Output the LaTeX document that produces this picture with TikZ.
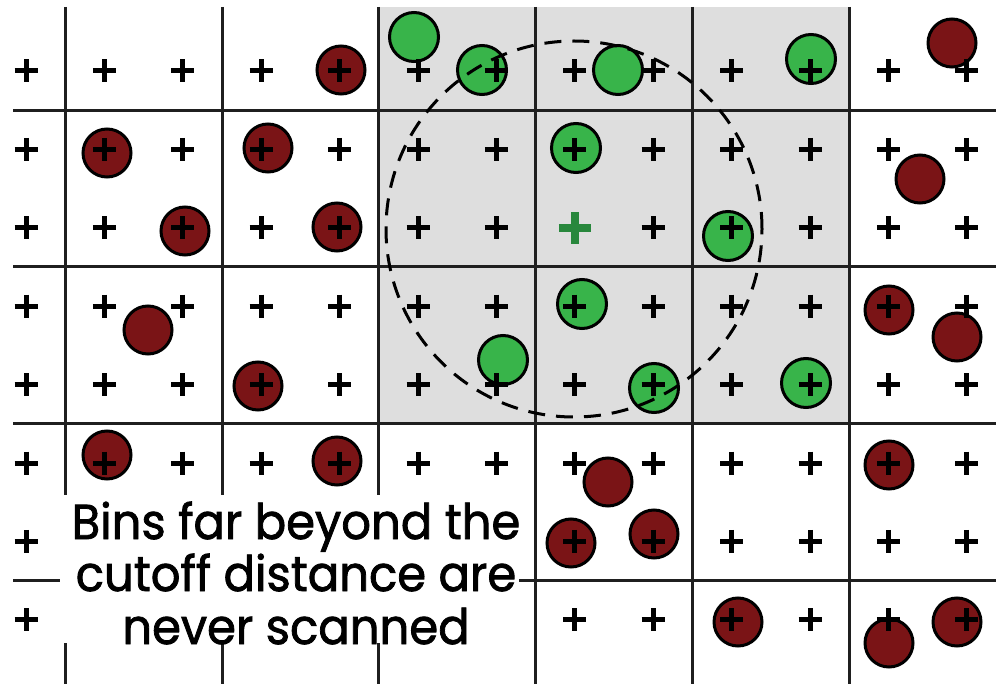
\documentclass[tikz,border=0pt]{standalone}
\usepackage{fontspec}
\newfontfamily\capfont[FakeStretch=0.95,FakeBold=1.6]{Poppins}
\definecolor{redfill}{RGB}{122,20,22}
\definecolor{greenfill}{RGB}{56,180,74}
\definecolor{greybg}{RGB}{222,222,222}
\definecolor{centreplus}{RGB}{40,135,60}
\begin{document}
\begin{tikzpicture}[x=1pt,y=-1pt,
  gridline/.style={line width=3pt, draw=black!88},
  plusmark/.style={line width=5pt, draw=black},
  redc/.style={circle, draw=black, line width=3pt, fill=redfill, minimum size=48pt, inner sep=0pt},
  greenc/.style={circle, draw=black, line width=3pt, fill=greenfill, minimum size=49pt, inner sep=0pt},
  cutoff/.style={circle, draw=black, line width=3pt, dash pattern=on 17pt off 11pt, minimum size=376pt, inner sep=0pt},
  captext/.style={anchor=base, inner sep=0pt, font=\capfont\fontsize{49}{52}\selectfont}
]
\useasboundingbox (0,0) rectangle (996,684);
\fill[white] (0,0) rectangle (996,684);
% scanned bins
\fill[greybg] (378.8,7) rectangle (849.2,423.8);
% grid
\foreach \gx in {65.2,222,378.8,535.6,692.4,849.2}
  \draw[gridline] (\gx,7) -- (\gx,684);
\foreach \gy in {110.2,267,423.8,580.6}
  \draw[gridline] (13,\gy) -- (996,\gy);
% red particles
\node[redc] (r1) at (341,70) {};
\node[redc] (r2) at (107,153) {};
\node[redc] (r3) at (268,148) {};
\node[redc] (r4) at (185,231) {};
\node[redc] (r5) at (337,227) {};
\node[redc] (r6) at (148,330) {};
\node[redc] (r7) at (258,386) {};
\node[redc] (r8) at (107,455) {};
\node[redc] (r9) at (337,461) {};
\node[redc] (r10) at (952,43) {};
\node[redc] (r11) at (920,179) {};
\node[redc] (r12) at (889,310) {};
\node[redc] (r13) at (957,337) {};
\node[redc] (r14) at (608,482) {};
\node[redc] (r15) at (571,543) {};
\node[redc] (r16) at (654,534) {};
\node[redc] (r17) at (889,465) {};
\node[redc] (r18) at (738,622) {};
\node[redc] (r19) at (889,643) {};
\node[redc] (r20) at (957,622) {};
% green particles
\node[greenc] (g1) at (414,37) {};
\node[greenc] (g2) at (482,70) {};
\node[greenc] (g3) at (618,70) {};
\node[greenc] (g4) at (811,59) {};
\node[greenc] (g5) at (576,148) {};
\node[greenc] (g6) at (728,236) {};
\node[greenc] (g7) at (582,304) {};
\node[greenc] (g8) at (503,360) {};
\node[greenc] (g9) at (654,388) {};
\node[greenc] (g10) at (806,383) {};
% grid points
\foreach \i in {0,...,12}
  \foreach \j in {0,...,7}{
    \pgfmathsetmacro{\px}{26+78.4*\i}
    \pgfmathsetmacro{\py}{71+78.4*\j}
    \ifnum\i=7 \ifnum\j=2 \else
      \draw[plusmark] (\px-11.5,\py) -- (\px+11.5,\py) (\px,\py-11.5) -- (\px,\py+11.5);
    \fi\else
      \draw[plusmark] (\px-11.5,\py) -- (\px+11.5,\py) (\px,\py-11.5) -- (\px,\py+11.5);
    \fi
  }
% central particle
\coordinate (centre) at (574.8,227.8);
\draw[line width=7.5pt, draw=centreplus] ([xshift=-16pt]centre) -- ([xshift=16pt]centre) ([yshift=-16pt]centre) -- ([yshift=16pt]centre);
% cutoff radius
\node[cutoff] (cut) at (574,229) {};
% caption
\fill[white] (60,495) rectangle (519,643);
\node[captext] (cap1) at (296,539) {Bins far beyond the};
\node[captext] (cap2) at (296,591) {cutoff distance are};
\node[captext] (cap3) at (296,644) {never scanned};
\end{tikzpicture}
\end{document}
